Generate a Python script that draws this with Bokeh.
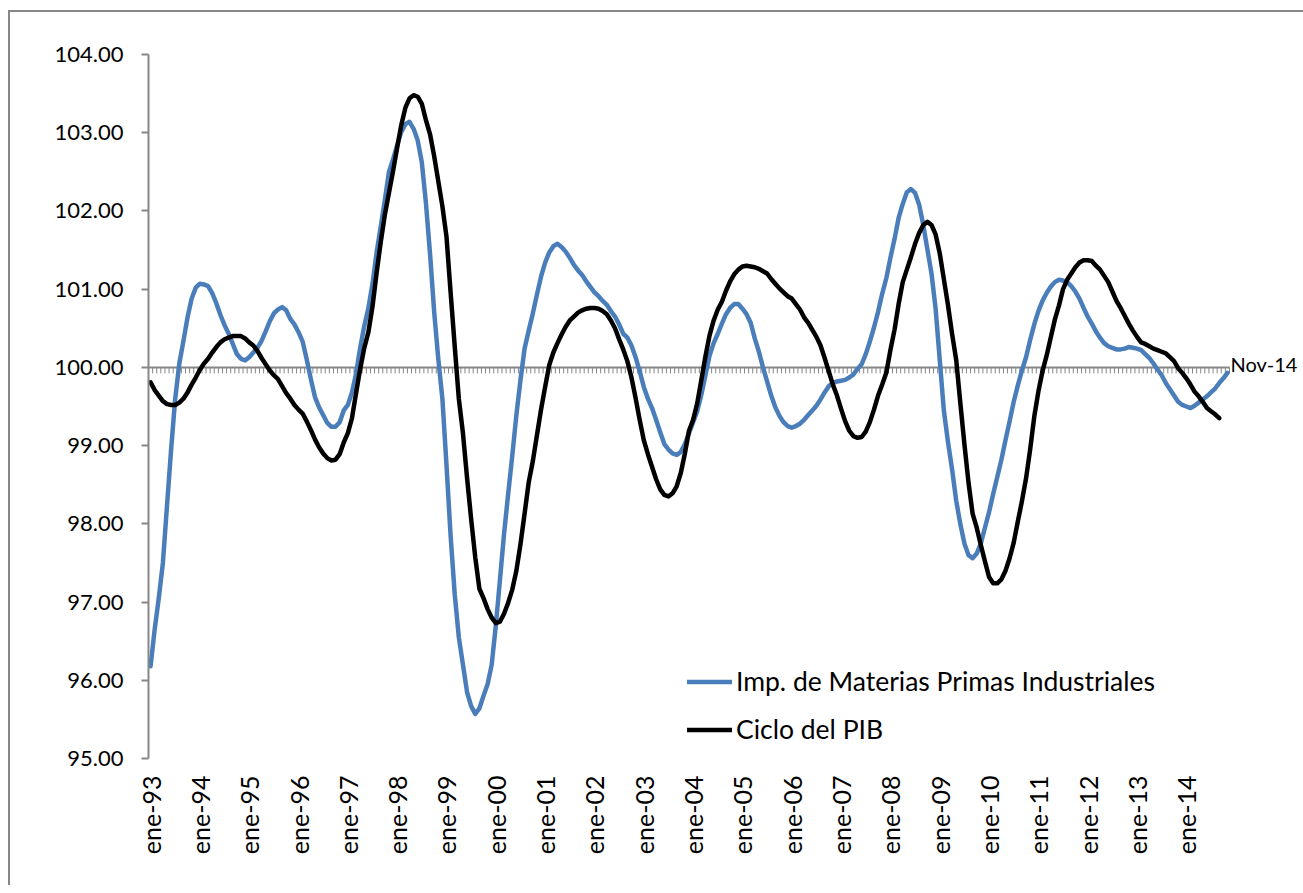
import numpy as np
from bokeh.plotting import figure
from bokeh.models import Range1d, FixedTicker, PrintfTickFormatter, Legend, LegendItem, Label
from bokeh.embed import file_html
from bokeh.resources import INLINE

# ---------------- data (monthly, ene-93 .. nov-14) ----------------
imp_materias_primas = [
    96.18, 96.65, 97.05, 97.50, 98.23, 98.95, 99.60, 100.05, 100.34, 100.64, 100.88, 101.02,
    101.07, 101.06, 101.04, 100.95, 100.82, 100.67, 100.54, 100.43, 100.30, 100.17, 100.11, 100.09,
    100.13, 100.19, 100.25, 100.34, 100.46, 100.59, 100.69, 100.74, 100.77, 100.73, 100.62, 100.55,
    100.45, 100.33, 100.10, 99.85, 99.62, 99.49, 99.39, 99.29, 99.24, 99.24, 99.30, 99.45,
    99.52, 99.68, 99.92, 100.25, 100.53, 100.76, 101.07, 101.47, 101.80, 102.14, 102.50, 102.66,
    102.84, 103.01, 103.11, 103.14, 103.05, 102.90, 102.62, 102.10, 101.45, 100.71, 100.11, 99.60,
    98.75, 97.85, 97.10, 96.55, 96.20, 95.85, 95.67, 95.57, 95.64, 95.80, 95.95, 96.20,
    96.70, 97.28, 97.87, 98.38, 98.87, 99.39, 99.84, 100.24, 100.47, 100.69, 100.93, 101.16,
    101.34, 101.47, 101.55, 101.58, 101.54, 101.48, 101.40, 101.31, 101.24, 101.18, 101.10, 101.03,
    100.96, 100.91, 100.85, 100.80, 100.72, 100.65, 100.55, 100.43, 100.38, 100.28, 100.13, 99.95,
    99.75, 99.60, 99.48, 99.33, 99.17, 99.02, 98.95, 98.90, 98.88, 98.92, 99.02, 99.16,
    99.30, 99.44, 99.65, 99.90, 100.15, 100.31, 100.43, 100.56, 100.68, 100.76, 100.81, 100.81,
    100.75, 100.68, 100.57, 100.37, 100.20, 100.00, 99.82, 99.64, 99.49, 99.38, 99.30, 99.25,
    99.23, 99.25, 99.28, 99.33, 99.39, 99.45, 99.51, 99.59, 99.68, 99.76, 99.80, 99.82,
    99.83, 99.84, 99.87, 99.91, 99.98, 100.04, 100.17, 100.33, 100.51, 100.71, 100.94, 101.14,
    101.40, 101.64, 101.91, 102.09, 102.24, 102.28, 102.23, 102.08, 101.82, 101.51, 101.20, 100.75,
    100.10, 99.45, 99.05, 98.70, 98.30, 98.00, 97.75, 97.60, 97.56, 97.62, 97.75, 97.95,
    98.15, 98.38, 98.60, 98.82, 99.07, 99.31, 99.56, 99.77, 99.96, 100.13, 100.35, 100.55,
    100.72, 100.85, 100.95, 101.03, 101.09, 101.12, 101.11, 101.09, 101.04, 100.97, 100.88, 100.76,
    100.65, 100.56, 100.46, 100.38, 100.31, 100.27, 100.25, 100.23, 100.23, 100.24, 100.26, 100.25,
    100.24, 100.22, 100.17, 100.12, 100.05, 99.97, 99.90, 99.80, 99.72, 99.64, 99.56, 99.52,
    99.50, 99.48, 99.51, 99.55, 99.59, 99.63, 99.68, 99.73, 99.80, 99.86, 99.93,
]

ciclo_pib = [
    99.81, 99.71, 99.64, 99.57, 99.53, 99.52, 99.52, 99.55, 99.60, 99.68, 99.78, 99.87,
    99.97, 100.05, 100.11, 100.19, 100.26, 100.32, 100.36, 100.38, 100.40, 100.40, 100.40, 100.37,
    100.32, 100.28, 100.21, 100.12, 100.04, 99.96, 99.90, 99.85, 99.76, 99.67, 99.60, 99.52,
    99.46, 99.41, 99.31, 99.20, 99.08, 98.98, 98.90, 98.84, 98.81, 98.82, 98.89, 99.04,
    99.16, 99.35, 99.67, 99.98, 100.25, 100.45, 100.78, 101.21, 101.60, 101.95, 102.23, 102.51,
    102.81, 103.10, 103.32, 103.44, 103.48, 103.46, 103.37, 103.16, 102.98, 102.70, 102.38, 102.06,
    101.67, 100.96, 100.27, 99.60, 99.16, 98.59, 98.06, 97.57, 97.17, 97.05, 96.91, 96.80,
    96.73, 96.75, 96.85, 96.99, 97.16, 97.40, 97.74, 98.13, 98.53, 98.80, 99.13, 99.46,
    99.75, 100.03, 100.19, 100.31, 100.42, 100.52, 100.60, 100.65, 100.70, 100.73, 100.75, 100.76,
    100.76, 100.75, 100.72, 100.68, 100.60, 100.50, 100.36, 100.23, 100.08, 99.87, 99.61, 99.33,
    99.07, 98.89, 98.73, 98.57, 98.44, 98.37, 98.35, 98.39, 98.48, 98.65, 98.90, 99.19,
    99.33, 99.54, 99.84, 100.14, 100.41, 100.60, 100.74, 100.84, 100.98, 101.10, 101.19, 101.25,
    101.29, 101.30, 101.29, 101.28, 101.26, 101.23, 101.20, 101.13, 101.07, 101.01, 100.96, 100.91,
    100.88, 100.81, 100.74, 100.64, 100.57, 100.48, 100.39, 100.28, 100.12, 99.95, 99.78, 99.64,
    99.47, 99.31, 99.19, 99.12, 99.10, 99.11, 99.18, 99.30, 99.46, 99.64, 99.78, 99.93,
    100.22, 100.48, 100.81, 101.09, 101.25, 101.41, 101.58, 101.72, 101.82, 101.86, 101.82, 101.70,
    101.46, 101.13, 100.80, 100.43, 100.10, 99.55, 99.02, 98.53, 98.13, 97.95, 97.73, 97.52,
    97.32, 97.24, 97.24, 97.29, 97.40, 97.56, 97.76, 98.03, 98.29, 98.58, 98.95, 99.37,
    99.69, 99.95, 100.15, 100.38, 100.61, 100.79, 101.00, 101.12, 101.20, 101.28, 101.34, 101.37,
    101.37, 101.36, 101.30, 101.25, 101.17, 101.09, 100.97, 100.85, 100.76, 100.66, 100.56, 100.47,
    100.39, 100.32, 100.30, 100.27, 100.24, 100.22, 100.20, 100.18, 100.13, 100.08, 99.99, 99.93,
    99.86, 99.78, 99.69, 99.63, 99.56, 99.48, 99.44, 99.40, 99.35,
]

year_labels = ["ene-93", "ene-94", "ene-95", "ene-96", "ene-97", "ene-98", "ene-99", "ene-00",
               "ene-01", "ene-02", "ene-03", "ene-04", "ene-05", "ene-06", "ene-07", "ene-08",
               "ene-09", "ene-10", "ene-11", "ene-12", "ene-13", "ene-14"]
y_ticks = [95, 96, 97, 98, 99, 100, 101, 102, 103, 104]
baseline = 100.0
last_label = "Nov-14"
series_names = ["Imp. de Materias Primas Industriales", "Ciclo del PIB"]

# ---------------- layout ----------------
FONT = "Lato"
GRAY = "#878787"
BLUE = "#4A7EBB"

n_months = len(imp_materias_primas)
FRAME_W, FRAME_H = 1155, 704
CAT_W = 1081 / n_months          # px per month
x_start = -0.5
x_end = x_start + FRAME_W / CAT_W

x_imp = np.arange(len(imp_materias_primas))
x_pib = np.arange(len(ciclo_pib))

p = figure(frame_width=FRAME_W, frame_height=FRAME_H,
           x_range=Range1d(x_start, x_end), y_range=Range1d(min(y_ticks), max(y_ticks)),
           output_backend="svg", toolbar_location=None,
           min_border_left=138, min_border_top=42, min_border_right=0, min_border_bottom=127)
p.styles = {"margin-left": "8px", "margin-top": "10px",
            "border-top": f"2px solid {GRAY}", "border-left": f"2px solid {GRAY}"}
p.outline_line_color = None
p.border_fill_color = "white"
p.xgrid.visible = False
p.ygrid.visible = False
p.background_fill_color = "white"

# y axis
ya = p.yaxis[0]
ya.ticker = FixedTicker(ticks=y_ticks)
ya.formatter = PrintfTickFormatter(format="%.2f")
ya.axis_line_color = GRAY
ya.axis_line_width = 2
ya.major_tick_line_color = GRAY
ya.major_tick_line_width = 2
ya.major_tick_out = 7
ya.major_tick_in = 0
ya.minor_tick_line_color = None
ya.major_label_standoff = 18
ya.major_label_text_font = FONT
ya.major_label_text_font_size = "22px"
ya.major_label_text_color = "black"

# x axis (labels only)
month_ticks = [12 * k for k in range(len(year_labels))]
xa = p.xaxis[0]
xa.ticker = FixedTicker(ticks=month_ticks)
xa.major_label_overrides = {t: lab for t, lab in zip(month_ticks, year_labels)}
xa.axis_line_color = None
xa.major_tick_line_color = None
xa.minor_tick_line_color = None
xa.major_label_orientation = np.pi / 2
xa.major_label_standoff = 11
xa.major_label_text_font = FONT
xa.major_label_text_font_size = "25px"
xa.major_label_text_color = "black"

# category axis crossing at 100 (line + monthly tick marks)
edges = np.arange(n_months + 1) - 0.5
p.line(x=[edges[0], edges[-1]], y=[baseline, baseline], line_color=GRAY, line_width=2)
p.ray(x=edges, y=baseline, length=6, length_units="screen", angle=-np.pi / 2,
      line_color=GRAY, line_width=1)

# series
r_imp = p.line(x_imp, imp_materias_primas, line_color=BLUE, line_width=4.5,
               line_join="round", line_cap="round")
r_pib = p.line(x_pib, ciclo_pib, line_color="black", line_width=4.5,
               line_join="round", line_cap="round")

# end label
p.add_layout(Label(x=float(x_imp[-1]), y=float(imp_materias_primas[-1]), text=last_label,
                   x_offset=3, y_offset=9, text_font=FONT, text_font_size="20px",
                   text_align="left", text_baseline="alphabetic", text_color="black"))

legend = Legend(items=[LegendItem(label=series_names[0], renderers=[r_imp]),
                       LegendItem(label=series_names[1], renderers=[r_pib])],
                location=(539, 13), orientation="vertical",
                glyph_width=45, glyph_height=31, label_height=31, spacing=16,
                label_standoff=4, padding=0, margin=0,
                label_text_font=FONT, label_text_font_size="26.5px", label_text_color="black",
                background_fill_alpha=0, border_line_color=None)
p.add_layout(legend)

open("out.html", "w").write(file_html(p, INLINE))
